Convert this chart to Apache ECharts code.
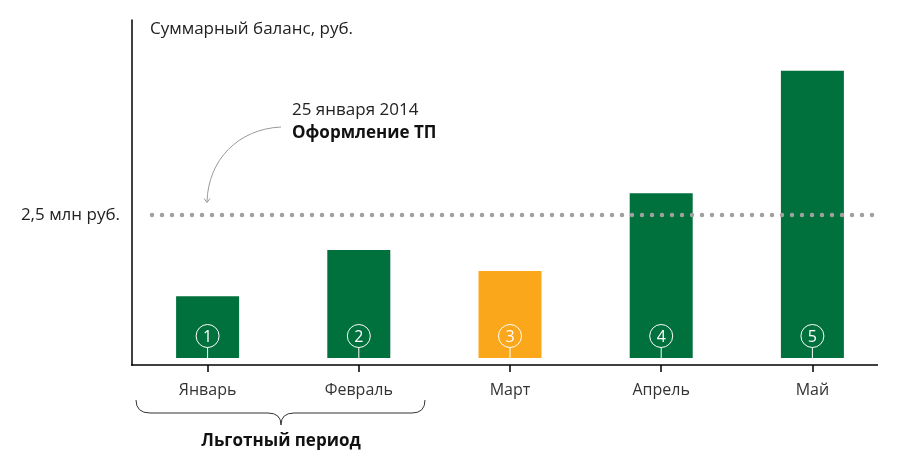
<!DOCTYPE html>
<html><head><meta charset="utf-8">
<script src="https://cdn.jsdelivr.net/npm/echarts@6/dist/echarts.min.js"></script>
<style>html,body{margin:0;padding:0;background:#fff}#c{width:912px;height:457px}</style>
</head><body><div id="c"></div>
<script>
const months = ['Январь', 'Февраль', 'Март', 'Апрель', 'Май'];
const balance = [1.08, 1.89, 1.52, 2.88, 5.02];
const markers = ['1', '2', '3', '4', '5'];
const highlighted = [false, false, true, false, false];
const thresholdValue = 2.5;
const thresholdLabel = '2,5 млн руб.';
const yTitle = 'Суммарный баланс, руб.';
const noteDate = '25 января 2014';
const noteTitle = 'Оформление ТП';
const periodLabel = 'Льготный период';

const GREEN = '#00703c', ORANGE = '#fba71b';
const FONT = '"Open Sans", "Liberation Sans", Arial, sans-serif';
const chart = echarts.init(document.getElementById('c'));

chart.setOption({
  animation: false,
  grid: { left: 132, right: 24, top: 20, bottom: 92 },
  xAxis: {
    type: 'category', data: months,
    axisLine: { show: false, onZero: false },
    axisTick: { show: true, alignWithLabel: true, length: 7, lineStyle: { color: '#000', width: 1.5 } },
    axisLabel: { margin: 17, fontSize: 16, color: '#333', fontFamily: FONT }
  },
  yAxis: {
    type: 'value', min: -0.1224, max: 5.909,
    axisLine: { show: true, lineStyle: { color: '#000', width: 1.5 } },
    axisTick: { show: false }, axisLabel: { show: false }, splitLine: { show: false }
  },
  series: [
    {
      type: 'bar', barWidth: 63,
      data: balance.map((v, i) => ({ value: v, itemStyle: { color: highlighted[i] ? ORANGE : GREEN } }))
    },
    {
      type: 'custom', z: 5,
      data: balance.map((v, i) => [i, 0]),
      renderItem: function (params, api) {
        const i = api.value(0);
        const base = api.coord([i, 0]);
        const cx = base[0], cy = base[1] - 22, r = 11.5;
        return {
          type: 'group', children: [
            { type: 'line', shape: { x1: cx, y1: cy + r, x2: cx, y2: base[1] }, style: { stroke: '#fff', lineWidth: 1 } },
            { type: 'circle', shape: { cx: cx, cy: cy, r: r }, style: { fill: 'rgba(0,0,0,0)', stroke: '#fff', lineWidth: 1 } },
            { type: 'text', x: cx, y: cy + 1, style: { text: markers[i], fill: '#fff', fontSize: 16, fontFamily: FONT, align: 'center', verticalAlign: 'middle' } }
          ]
        };
      }
    }
  ]
});

const yThr = chart.convertToPixel({ yAxisIndex: 0 }, thresholdValue);
const yAxisBottom = chart.convertToPixel({ yAxisIndex: 0 }, -0.1224);
const braceStyle = { stroke: '#333', lineWidth: 1, fill: null };

chart.setOption({
  graphic: [
    { type: 'line', z: 100, shape: { x1: 152, y1: yThr, x2: 876, y2: yThr },
      style: { stroke: '#a0a0a0', lineWidth: 4.5, lineDash: [0, 10], lineCap: 'round' } },
    { type: 'line', z: 100, shape: { x1: 131, y1: yAxisBottom, x2: 878, y2: yAxisBottom },
      style: { stroke: '#000', lineWidth: 1.5 } },
    { type: 'text', z: 100, x: 120, y: yThr, style: { text: thresholdLabel, fill: '#222', fontSize: 17, fontFamily: FONT, align: 'right', verticalAlign: 'middle' } },
    { type: 'text', z: 100, x: 150, y: 29, style: { text: yTitle, fill: '#222', fontSize: 17, fontFamily: FONT, align: 'left', verticalAlign: 'middle' } },
    { type: 'text', z: 100, x: 292, y: 110, style: { text: noteDate, fill: '#222', fontSize: 17, fontFamily: FONT, align: 'left', verticalAlign: 'middle' } },
    { type: 'text', z: 100, x: 292, y: 133, style: { text: noteTitle, fill: '#111', fontSize: 17, fontWeight: 'bold', fontFamily: FONT, align: 'left', verticalAlign: 'middle' } },
    { type: 'bezierCurve', z: 100, shape: { x1: 281, y1: 127, cpx1: 238, cpy1: 129, cpx2: 208, cpy2: 160, x2: 207, y2: 202 },
      style: { stroke: '#999', lineWidth: 1, fill: null } },
    { type: 'polyline', z: 100, shape: { points: [[204, 198.5], [207, 202.5], [210, 198.5]] },
      style: { stroke: '#999', lineWidth: 1, fill: null } },
    { type: 'bezierCurve', z: 100, shape: { x1: 136, y1: 400, cpx1: 136, cpy1: 413, x2: 150, y2: 413 }, style: braceStyle },
    { type: 'line', z: 100, shape: { x1: 150, y1: 413, x2: 268, y2: 413 }, style: braceStyle },
    { type: 'bezierCurve', z: 100, shape: { x1: 268, y1: 413, cpx1: 281, cpy1: 413, x2: 281, y2: 425 }, style: braceStyle },
    { type: 'bezierCurve', z: 100, shape: { x1: 281, y1: 425, cpx1: 281, cpy1: 413, x2: 294, y2: 413 }, style: braceStyle },
    { type: 'line', z: 100, shape: { x1: 294, y1: 413, x2: 412, y2: 413 }, style: braceStyle },
    { type: 'bezierCurve', z: 100, shape: { x1: 412, y1: 413, cpx1: 425, cpy1: 413, x2: 425, y2: 400 }, style: braceStyle },
    { type: 'text', z: 100, x: 281, y: 441, style: { text: periodLabel, fill: '#111', fontSize: 17, fontWeight: 'bold', fontFamily: FONT, align: 'center', verticalAlign: 'middle' } }
  ]
});
</script>
</body></html>
